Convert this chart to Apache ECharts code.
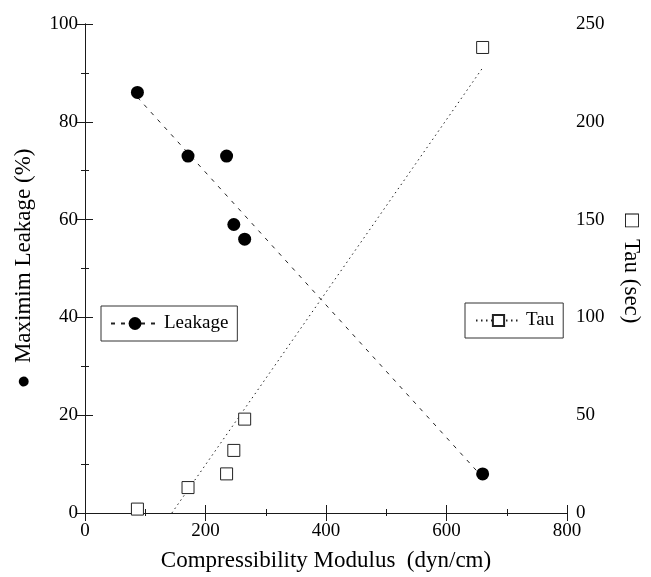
<!DOCTYPE html>
<html>
<head>
<meta charset="utf-8">
<script src="https://cdn.jsdelivr.net/npm/echarts@6/dist/echarts.min.js"></script>
<style>
  html, body { margin: 0; padding: 0; background: #fff; }
  #chart { width: 651px; height: 577px; }
</style>
</head>
<body>
<div id="chart"></div>
<script>
// values
const modulus = [87, 171, 235, 247, 265, 660];   // dyn/cm
const leakage = [86, 73, 73, 59, 56, 8];         // %
const tau = [2, 13, 20, 32, 48, 238];            // sec

const xTicks = [0, 800, 200];     // min, max, interval
const leftTicks = [0, 100, 20];
const rightTicks = [0, 250, 50];

const font = '"Liberation Serif", "Times New Roman", serif';

// least squares fit, used for the two trend lines
function fit(xs, ys) {
  const n = xs.length;
  const mx = xs.reduce((a, b) => a + b, 0) / n;
  const my = ys.reduce((a, b) => a + b, 0) / n;
  let sxy = 0, sxx = 0;
  for (let i = 0; i < n; i++) {
    sxy += (xs[i] - mx) * (ys[i] - my);
    sxx += (xs[i] - mx) * (xs[i] - mx);
  }
  const k = sxy / sxx;
  return { k: k, b: my - k * mx };
}

const xMin = Math.min(...modulus), xMax = Math.max(...modulus);
const leakFit = fit(modulus, leakage);
const tauFit = fit(modulus, tau);
const tauStart = Math.max(xMin, -tauFit.b / tauFit.k);   // line starts where it meets 0

const leakLine = [xMin, xMax].map(x => [x, leakFit.k * x + leakFit.b]);
const tauLine = [tauStart, xMax].map(x => [x, tauFit.k * x + tauFit.b]);

const chart = echarts.init(document.getElementById('chart'));

const axisColor = '#1a1a1a';
const tickCommon = {
  axisLine: { show: true, lineStyle: { color: axisColor, width: 1 } },
  axisTick: { show: true, inside: true, length: 8, lineStyle: { color: axisColor } },
  minorTick: { show: true, splitNumber: 2, length: 4, lineStyle: { color: axisColor } },
  splitLine: { show: false },
  axisLabel: { color: '#000', fontFamily: font, fontSize: 19 },
  nameTextStyle: { color: '#000', fontFamily: font, fontSize: 23 }
};

const option = {
  backgroundColor: '#fff',
  animation: false,
  grid: { left: 85, right: 75, top: 24, bottom: 62 },
  legend: [
    {
      data: ['Leakage'],
      left: 101, top: 306,
      itemWidth: 48, itemHeight: 16, itemGap: 6,
      padding: [8, 9, 8, 9],
      borderColor: '#333', borderWidth: 1,
      selectedMode: false,
      textStyle: { color: '#000', fontFamily: font, fontSize: 19 }
    },
    {
      data: ['Tau'],
      left: 465, top: 303,
      itemWidth: 45, itemHeight: 14, itemGap: 6,
      padding: [8, 9, 8, 10],
      borderColor: '#333', borderWidth: 1,
      selectedMode: false,
      textStyle: { color: '#000', fontFamily: font, fontSize: 19 }
    }
  ],
  xAxis: [
    Object.assign({}, tickCommon, {
      type: 'value', position: 'bottom',
      min: xTicks[0], max: xTicks[1], interval: xTicks[2],
      name: 'Compressibility Modulus  (dyn/cm)',
      nameLocation: 'middle', nameGap: 36,
      axisLabel: Object.assign({}, tickCommon.axisLabel, { margin: 9 })
    }),
    Object.assign({}, tickCommon, {
      type: 'value', position: 'top',
      min: xTicks[0], max: xTicks[1], interval: xTicks[2],
      minorTick: Object.assign({}, tickCommon.minorTick, { length: 3 }),
      axisLabel: { show: false }
    })
  ],
  yAxis: [
    Object.assign({}, tickCommon, {
      type: 'value', position: 'left',
      min: leftTicks[0], max: leftTicks[1], interval: leftTicks[2],
      name: '\u25CF  Maximim Leakage (%)',
      nameLocation: 'middle', nameGap: 50, nameRotate: 90,
      axisLabel: Object.assign({}, tickCommon.axisLabel, { margin: 7 })
    }),
    Object.assign({}, tickCommon, {
      type: 'value', position: 'right',
      min: rightTicks[0], max: rightTicks[1], interval: rightTicks[2],
      name: '\u25A1  Tau (sec)',
      nameLocation: 'middle', nameGap: 53, nameRotate: -90,
      axisLabel: Object.assign({}, tickCommon.axisLabel, { margin: 9 })
    })
  ],
  series: [
    {
      name: 'Leakage',
      type: 'line',
      data: leakLine,
      symbol: 'circle',
      showSymbol: false,
      itemStyle: { color: '#000' },
      lineStyle: { color: '#222', width: 1, type: [4, 6] },
      z: 1
    },
    {
      name: 'Tau',
      type: 'line',
      yAxisIndex: 1,
      data: tauLine,
      symbol: 'rect',
      showSymbol: false,
      itemStyle: { color: '#fff', borderColor: '#222', borderWidth: 1 },
      lineStyle: { color: '#222', width: 1, type: [1.5, 3.5] },
      z: 1
    },
    {
      name: 'Leakage points',
      type: 'scatter',
      data: modulus.map((x, i) => [x, leakage[i]]),
      symbol: 'circle',
      symbolSize: 13,
      itemStyle: { color: '#000', opacity: 1 },
      z: 3
    },
    {
      name: 'Tau points',
      type: 'scatter',
      yAxisIndex: 1,
      data: modulus.map((x, i) => [x, tau[i]]),
      symbol: 'rect',
      symbolSize: 12,
      itemStyle: { color: '#fff', borderColor: '#222', borderWidth: 1, opacity: 1 },
      z: 3
    }
  ]
};

chart.setOption(option);
</script>
</body>
</html>
